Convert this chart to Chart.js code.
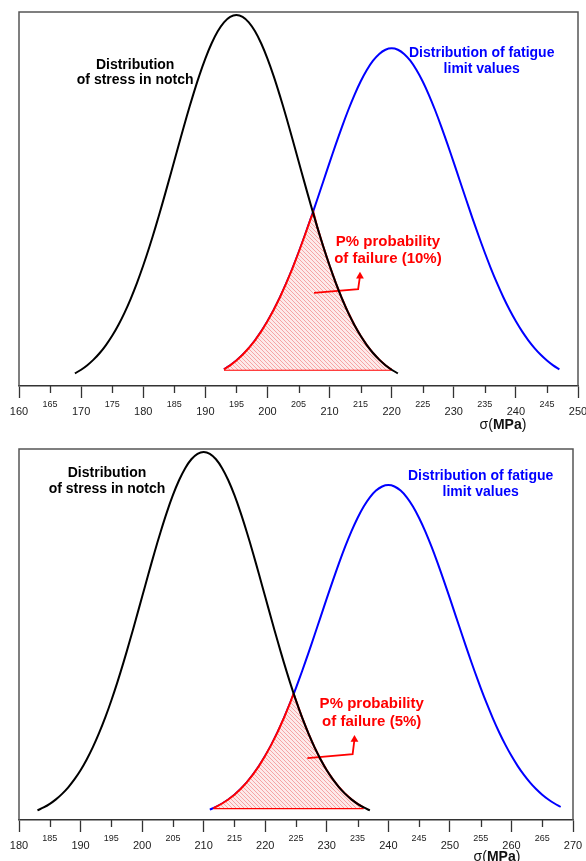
<!DOCTYPE html>
<html><head><meta charset="utf-8">
<script src="https://cdn.jsdelivr.net/npm/chart.js@4/dist/chart.umd.min.js"></script>
<style>
html,body{margin:0;padding:0;background:#fff;overflow:hidden;width:586px;height:861px;}
.wrap{position:absolute;left:0;}
</style></head><body>
<div class="wrap" style="top:0"><canvas id="c1" width="600" height="440"></canvas></div>
<div class="wrap" style="top:436px"><canvas id="c2" width="600" height="425"></canvas></div>
<script>
// ---------- Top chart (10% case) ----------
const topStressX = [169,170,171,172,173,174,175,176,177,178,179,180,181,182,183,184,185,186,187,188,189,190,191,192,193,194,195,196,197,198,199,200,201,202,203,204,205,206,207,208,209,210,211,212,213,214,215,216,217,218,219,220,221];
const topStressY = [3.40,4.39,5.61,7.10,8.89,11.03,13.53,16.45,19.79,23.58,27.80,32.47,37.53,42.96,48.68,54.61,60.65,66.69,72.61,78.27,83.53,88.25,92.31,95.60,98.02,99.50,100,99.50,98.02,95.60,92.31,88.25,83.53,78.27,72.61,66.69,60.65,54.61,48.68,42.96,37.53,32.47,27.80,23.58,19.79,16.45,13.53,11.03,8.89,7.10,5.61,4.39,3.40];
const topFatigueX = [193,194,195,196,197,198,199,200,201,202,203,204,205,206,207,208,209,210,211,212,213,214,215,216,217,218,219,220,221,222,223,224,225,226,227,228,229,230,231,232,233,234,235,236,237,238,239,240,241,242,243,244,245,246,247];
const topFatigueY = [4.48,5.57,6.88,8.42,10.23,12.32,14.71,17.43,20.47,23.85,27.57,31.59,35.91,40.49,45.26,50.20,55.19,60.20,65.11,69.85,74.32,78.42,82.07,85.18,87.68,89.51,90.62,91,90.62,89.51,87.68,85.18,82.07,78.42,74.32,69.85,65.11,60.20,55.19,50.20,45.26,40.49,35.91,31.59,27.57,23.85,20.47,17.43,14.71,12.32,10.23,8.42,6.88,5.57,4.48];
const topFailX = [193,194,195,196,197,198,199,200,201,202,203,204,205,206,207,207.4,208,209,210,211,212,213,214,215,216,217,218,219,220];
const topFailY = [4.48,5.57,6.88,8.42,10.23,12.32,14.71,17.43,20.47,23.85,27.57,31.59,35.91,40.49,45.26,46.8,42.96,37.53,32.47,27.80,23.58,19.79,16.45,13.53,11.03,8.89,7.10,5.61,4.39];
const topFailBase = 4.4;
const topArrowX = [207.5,214.6,214.9];
const topArrowY = [25.1,26.1,29.6];
const topXRange = [160,250];

// ---------- Bottom chart (5% case) ----------
const botStressX = [183,184,185,186,187,188,189,190,191,192,193,194,195,196,197,198,199,200,201,202,203,204,205,206,207,208,209,210,211,212,213,214,215,216,217,218,219,220,221,222,223,224,225,226,227,228,229,230,231,232,233,234,235,236,237];
const botStressY = [2.61,3.40,4.39,5.61,7.10,8.89,11.03,13.53,16.45,19.79,23.58,27.80,32.47,37.53,42.96,48.68,54.61,60.65,66.69,72.61,78.27,83.53,88.25,92.31,95.60,98.02,99.50,100,99.50,98.02,95.60,92.31,88.25,83.53,78.27,72.61,66.69,60.65,54.61,48.68,42.96,37.53,32.47,27.80,23.58,19.79,16.45,13.53,11.03,8.89,7.10,5.61,4.39,3.40,2.61];
const botFatigueX = [211,212,213,214,215,216,217,218,219,220,221,222,223,224,225,226,227,228,229,230,231,232,233,234,235,236,237,238,239,240,241,242,243,244,245,246,247,248,249,250,251,252,253,254,255,256,257,258,259,260,261,262,263,264,265,266,267,268];
const botFatigueY = [2.82,3.56,4.48,5.57,6.88,8.42,10.23,12.32,14.71,17.43,20.47,23.85,27.57,31.59,35.91,40.49,45.26,50.20,55.19,60.20,65.11,69.85,74.32,78.42,82.07,85.18,87.68,89.51,90.62,91,90.62,89.51,87.68,85.18,82.07,78.42,74.32,69.85,65.11,60.20,55.19,50.20,45.26,40.49,35.91,31.59,27.57,23.85,20.47,17.43,14.71,12.32,10.23,8.42,6.88,5.57,4.48,3.56];
const botFailX = [211.6,212,213,214,215,216,217,218,219,220,221,222,223,224,224.6,225,226,227,228,229,230,231,232,233,234,235,236];
const botFailY = [3.25,3.56,4.48,5.57,6.88,8.42,10.23,12.32,14.71,17.43,20.47,23.85,27.57,31.59,34.3,32.47,27.80,23.58,19.79,16.45,13.53,11.03,8.89,7.10,5.61,4.39,3.40];
const botFailBase = 3.25;
const botArrowX = [226.85,234.2,234.5];
const botArrowY = [16.8,17.9,21.9];
const botXRange = [180,270];

// ---------- texts ----------
const stressLabel = ['Distribution', 'of stress in notch'];
const fatigueLabel = ['Distribution of fatigue', 'limit values'];
const topFailLabel = ['P% probability', 'of failure (10%)'];
const botFailLabel = ['P% probability', 'of failure (5%)'];
const yMax = 100.8;

const F = "'Liberation Sans', Arial, sans-serif";
Chart.defaults.font.family = F;

function pts(xs, ys) { return xs.map((x, i) => ({x: x, y: ys[i]})); }

function hatch() {
  const c = document.createElement('canvas'); c.width = 4; c.height = 4;
  const g = c.getContext('2d');
  g.fillStyle = '#fdeaea'; g.fillRect(0, 0, 4, 4);
  g.strokeStyle = 'rgba(238,110,110,0.7)'; g.lineWidth = 0.8;
  g.beginPath();
  g.moveTo(0, 0); g.lineTo(4, 4);
  g.moveTo(-2, 2); g.lineTo(2, 6);
  g.moveTo(2, -2); g.lineTo(6, 2);
  g.stroke();
  return g.createPattern(c, 'repeat');
}

const isMajorVal = v => Math.round(v) % 10 === 0;

const framePlugin = {
  id: 'frame',
  afterDraw(chart) {
    const a = chart.chartArea, ctx = chart.ctx, xs = chart.scales.x;
    ctx.save();
    ctx.strokeStyle = '#555'; ctx.lineWidth = 1.5;
    ctx.beginPath();
    ctx.moveTo(a.left, a.bottom); ctx.lineTo(a.left, a.top);
    ctx.lineTo(a.right, a.top); ctx.lineTo(a.right, a.bottom);
    ctx.stroke();
    // minor (5-unit) tick marks, shorter than the major ones
    ctx.strokeStyle = '#333'; ctx.lineWidth = 1.3;
    ctx.beginPath();
    xs.ticks.forEach(t => {
      if (!isMajorVal(t.value)) {
        const px = Math.round(xs.getPixelForValue(t.value)) + 0.5;
        ctx.moveTo(px, a.bottom); ctx.lineTo(px, a.bottom + 7);
      }
    });
    ctx.stroke();
    ctx.restore();
  }
};

const textPlugin = {
  id: 'texts',
  afterDatasetsDraw(chart, args, opts) {
    const ctx = chart.ctx, xs = chart.scales.x, ys = chart.scales.y;
    ctx.save();
    ctx.textAlign = 'center'; ctx.textBaseline = 'middle';
    opts.items.forEach(it => {
      ctx.font = it.font; ctx.fillStyle = it.color;
      it.lines.forEach((ln, i) => ctx.fillText(ln, xs.getPixelForValue(it.x), ys.getPixelForValue(it.y[i])));
    });
    const t = opts.title;
    const parts = [['σ(', 'normal 14px ' + F], ['MPa', 'bold 14px ' + F], [')', 'normal 14px ' + F]];
    let w = 0;
    parts.forEach(p => { ctx.font = p[1]; w += ctx.measureText(p[0]).width; });
    let x0 = t.x - w / 2;
    ctx.textAlign = 'left'; ctx.fillStyle = '#111';
    parts.forEach(p => { ctx.font = p[1]; ctx.fillText(p[0], x0, t.y); x0 += ctx.measureText(p[0]).width; });
    ctx.restore();
  }
};

function build(id, d) {
  const isMajor = ctx => ctx.tick && isMajorVal(ctx.tick.value);
  return new Chart(document.getElementById(id), {
    type: 'line',
    data: {
      datasets: [
        { data: pts(d.sx, d.sy), borderColor: '#000', borderWidth: 2, pointRadius: 0, tension: 0.3, fill: false, order: 0 },
        { data: pts(d.ax, d.ay), borderColor: '#f00', borderWidth: 1.8, pointRadius: [0, 0, 4.5], pointStyle: 'triangle',
          pointBackgroundColor: '#f00', pointBorderColor: '#f00', pointBorderWidth: 0, tension: 0, fill: false, order: 1 },
        { data: pts(d.px, d.py), borderColor: '#f00', borderWidth: 2, pointRadius: 0, tension: 0,
          fill: { value: d.base }, backgroundColor: hatch(), order: 2 },
        { data: [{x: d.px[0], y: d.base}, {x: d.px[d.px.length - 1], y: d.base}], borderColor: '#f00', borderWidth: 2.2, pointRadius: 0, fill: false, order: 2 },
        { data: pts(d.fx, d.fy), borderColor: '#0000ff', borderWidth: 2, pointRadius: 0, tension: 0.3, fill: false, order: 3 }
      ]
    },
    options: {
      responsive: false, animation: false, events: [],
      layout: { padding: d.pad },
      plugins: {
        legend: { display: false }, tooltip: { enabled: false },
        texts: { items: d.texts, title: d.title }
      },
      scales: {
        x: {
          type: 'linear', min: d.xr[0], max: d.xr[1],
          afterFit: s => { s.height = 40; },
          ticks: {
            stepSize: 5, autoSkip: false, maxRotation: 0, padding: 1, color: '#222',
            callback: v => (isMajorVal(v) ? ['', String(v)] : String(v)),
            font: ctx => isMajor(ctx) ? { family: F, size: 11, lineHeight: 0.81 } : { family: F, size: 9, lineHeight: 1.15 }
          },
          grid: {
            display: true, drawOnChartArea: false, drawTicks: true, tickLength: 12, tickWidth: 1.3,
            tickColor: ctx => isMajor(ctx) ? '#333' : 'rgba(0,0,0,0)'
          },
          border: { display: true, color: '#333', width: 1.5 }
        },
        y: { type: 'linear', min: 0, max: yMax, display: false }
      }
    },
    plugins: [framePlugin, textPlugin]
  });
}

build('c1', {
  sx: topStressX, sy: topStressY, fx: topFatigueX, fy: topFatigueY,
  px: topFailX, py: topFailY, base: topFailBase, ax: topArrowX, ay: topArrowY, xr: topXRange,
  pad: { left: 19, top: 12, right: 22, bottom: 14 },
  title: { x: 503, y: 425 },
  texts: [
    { lines: stressLabel, x: 178.7, y: [86.5, 82.4], font: 'bold 14px ' + F, color: '#000' },
    { lines: fatigueLabel, x: 234.5, y: [89.8, 85.5], font: 'bold 14px ' + F, color: '#0000ff' },
    { lines: topFailLabel, x: 219.4, y: [38.8, 34.2], font: 'bold 15px ' + F, color: '#f00' }
  ]
});

build('c2', {
  sx: botStressX, sy: botStressY, fx: botFatigueX, fy: botFatigueY,
  px: botFailX, py: botFailY, base: botFailBase, ax: botArrowX, ay: botArrowY, xr: botXRange,
  pad: { left: 19, top: 13, right: 27, bottom: 1 },
  title: { x: 497, y: 421 },
  texts: [
    { lines: stressLabel, x: 194.3, y: [94.2, 89.8], font: 'bold 14px ' + F, color: '#000' },
    { lines: fatigueLabel, x: 255.0, y: [93.3, 89.1], font: 'bold 14px ' + F, color: '#0000ff' },
    { lines: botFailLabel, x: 237.3, y: [31.5, 26.6], font: 'bold 15px ' + F, color: '#f00' }
  ]
});
</script>
</body></html>
